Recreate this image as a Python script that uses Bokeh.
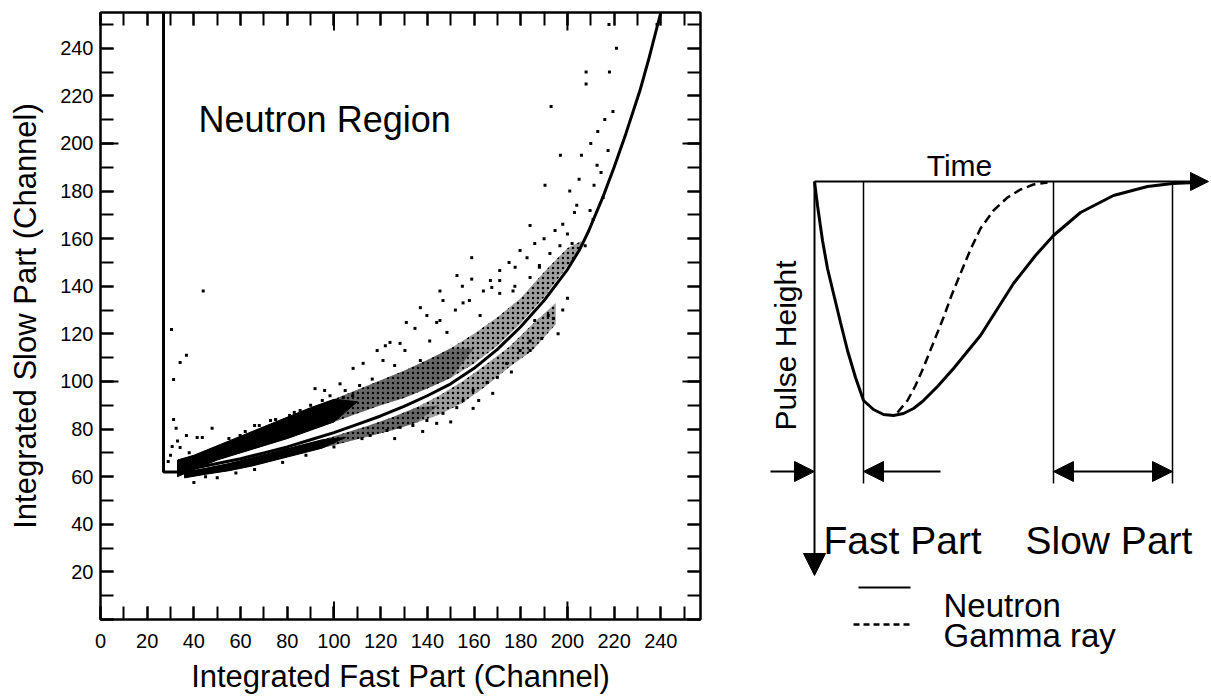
import math
from bokeh.plotting import figure
from bokeh.models import (Range1d, LinearAxis, SingleIntervalTicker, Label,
                          Arrow, NormalHead, CustomJSTickFormatter)
from bokeh.layouts import row, column
from bokeh.embed import file_html
from bokeh.resources import INLINE

FONT = "Liberation Sans"

# ---------------- left panel data ----------------
tick_interval = 20
long_ticks = [100, 200]

# region boundary (vertical cut + discrimination curve)
boundary_x = [27, 27, 34, 40, 50, 60, 70, 80, 90, 100, 110, 120, 130, 140, 150,
              160, 170, 180, 190, 200, 205, 209, 215, 220, 225, 231, 235, 240]
boundary_y = [255, 62, 62, 63.5, 65.5, 67.5, 70, 72.5, 75.5, 78.5, 82, 85.5, 89.5,
              94, 99, 105.5, 113.5, 123, 134, 147, 155, 163, 177, 190, 204, 222,
              236, 255]

# dense upper band (neutron events)
upper_x = [33, 40, 50, 60, 70, 80, 90, 100, 110, 120, 130, 140, 150, 160, 170,
           180, 190, 200, 206]
upper_lo = [60, 63, 67, 70, 73, 76, 79.5, 83, 86.5, 90, 93, 97, 101.5, 107.5,
            115, 124.5, 135.5, 148.5, 156]
upper_hi = [67, 69, 73, 77, 81, 85, 89, 92.5, 96.5, 100.5, 104.5, 109, 114, 120,
            127, 135, 146, 156, 159]

# dense lower band (gamma events)
lower_x = [36, 45, 55, 65, 75, 85, 95, 105, 115, 125, 135, 145, 155, 165, 175,
           185, 195]
lower_lo = [59.5, 61, 62.5, 64.5, 67, 69.5, 72, 74.5, 77, 79.5, 82.5, 86, 91, 98,
            106, 113, 124]
lower_hi = [62, 63.5, 65.5, 68, 70.5, 73, 75.5, 78.5, 81.5, 85, 89, 94, 100, 107,
            114.5, 124, 133]

# sparse individual events
scatter_x = [30.4, 31.3, 34.1, 36.8, 31.3, 32.4, 36.8, 30.7, 29, 41.4, 43.6, 47.8,
             34.1, 40, 44, 30, 33, 38, 45, 50,
             217.8, 238.4, 221, 208, 208, 218, 193, 219.5, 216, 217.4, 212.7,
             214.4, 211.4, 215.3, 209.7, 207.6, 213, 210, 206, 211, 204,
             197, 190.4, 201, 184, 203, 194.7, 179.7, 196.8, 188, 171, 167, 177.5,
             158, 152, 145.4, 162.6, 141, 130.4, 126, 137, 116.4, 111, 104.8, 98.3,
             90, 85.5, 81, 72.8, 66, 59.8, 122,
             159, 152.7, 177.6, 159, 145.4, 146.7, 155.3, 137, 139.8, 131, 144,
             134.7, 148.4, 118.5, 124, 128.3, 112.5, 108.2, 121, 102.6, 96, 91.9,
             104, 108, 171, 171, 167.6, 176.7, 184, 188, 182.7, 192.5,
             194, 191.8, 186, 184, 184, 179.7, 174, 170, 165.6, 159.6, 159.6, 155.3,
             152.6, 146.7, 144, 139.8, 133.8, 128.3, 122.7, 115.5, 198, 200, 196,
             189, 176, 168, 162, 150, 138, 126,
             200, 202, 198, 205, 190, 186, 175, 164, 155,
             55, 62, 68, 75, 83, 95, 58, 66, 78, 88, 100, 112]
scatter_y = [121.8, 100.8, 108, 111, 84, 80.3, 77.3, 72.7, 66.4, 76.5, 76.5, 80.3,
             72.3, 57.6, 138, 69, 75, 70, 60, 59.5,
             250, 250, 240, 230, 225, 230, 215.5, 213.4, 210, 197, 190.8,
             187.8, 182.4, 177.3, 171.8, 157, 205, 200, 195, 168, 174,
             195, 182.4, 180, 165.5, 171, 163.4, 155, 157, 148.7, 146.6, 142.4, 140,
             134, 130, 125.6, 127.7, 117, 113, 106.7, 108.8, 101, 98.3, 96.2, 94,
             90, 87.8, 85.7, 83.6, 81.5, 77.3, 115,
             152, 144.5, 148, 143, 138, 134, 133, 131, 127.7, 124.8, 124.8,
             122.3, 120.6, 113, 116.4, 116, 107.6, 105.5, 108.8, 99, 96.2, 97,
             93.3, 94, 142.4, 137, 139.5, 138, 143.7, 148, 152, 153.8,
             126.5, 127.7, 125.6, 117, 113, 113, 107.6, 101.7, 99.6, 96.2, 88.7, 92,
             89, 86.6, 82.4, 83.6, 81.5, 80.7, 79.4, 77.3, 130, 135, 120,
             118, 104, 95, 92, 83, 79, 76,
             162, 158, 166, 185, 160, 158, 150, 138, 140,
             76, 79, 81.5, 84, 87, 92, 61.5, 63, 66, 69, 72.5, 76]

# ---------------- right panel data (schematic pulse shapes) ----------------
neutron_t = [0, 3, 8, 13, 19, 26, 33, 41, 49, 59, 69, 79, 89, 99, 108, 123, 139,
             166, 199, 221, 239, 266, 299, 333, 358, 381]
neutron_h = [0, -24, -59, -87, -112, -141, -169, -196, -219, -228, -233, -234,
             -232, -227, -220, -205, -187, -154, -102, -74, -54, -31, -14, -5, -2, -1]
gamma_t = [83, 93, 101, 109, 119, 129, 137, 146, 156, 166, 179, 193, 206, 219, 233]
gamma_h = [-231, -219, -204, -186, -161, -136, -114, -92, -68, -47, -29, -16, -8,
           -3, -1]
gate_edges = [49, 239, 358]
fast_gate = [0, 49]
slow_gate = [239, 358]

# ---------------- left figure ----------------
p1 = figure(width=740, height=698, output_backend="svg", toolbar_location=None,
            x_range=Range1d(0, 257), y_range=Range1d(0, 255),
            min_border_left=100, min_border_right=40, min_border_top=12,
            min_border_bottom=79)
p1.grid.visible = False
p1.outline_line_color = "black"
p1.outline_line_width = 2
p1.outline_line_alpha = 1


def style_axis(ax, show_labels):
    ax.ticker = SingleIntervalTicker(interval=tick_interval, num_minor_ticks=2)
    ax.major_tick_in = 13
    ax.major_tick_out = 0
    ax.minor_tick_in = 13
    ax.minor_tick_out = 0
    ax.major_tick_line_width = 2
    ax.minor_tick_line_width = 2
    ax.major_tick_line_color = "black"
    ax.minor_tick_line_color = "black"
    ax.axis_line_width = 2
    ax.axis_line_color = "black"
    if show_labels:
        ax.major_label_text_font = FONT
        ax.major_label_text_font_size = "20px"
        ax.major_label_text_color = "black"
        ax.axis_label_text_font = FONT
        ax.axis_label_text_font_size = "31px"
        ax.axis_label_text_font_style = "normal"
        ax.axis_label_text_color = "black"
    else:
        ax.formatter = CustomJSTickFormatter(code="return ''")
        ax.major_label_standoff = 0


xa = p1.xaxis[0]
ya = p1.yaxis[0]
style_axis(xa, True)
style_axis(ya, True)
xa.axis_label = "Integrated Fast Part (Channel)"
ya.axis_label = "Integrated Slow Part (Channel)"
xa.major_label_standoff = 14
xa.axis_label_standoff = 8
ya.major_label_standoff = 7
ya.axis_label_standoff = 14
ya.major_label_overrides = {0: ""}

top_ax = LinearAxis()
right_ax = LinearAxis()
style_axis(top_ax, False)
style_axis(right_ax, False)
p1.add_layout(top_ax, "above")
p1.add_layout(right_ax, "right")

# longer ticks at the hundreds
lx = 18 / 2.335
ly = 18 / 2.38
xr0, xr1 = p1.x_range.start, p1.x_range.end
yr0, yr1 = p1.y_range.start, p1.y_range.end
p1.segment(x0=long_ticks, y0=[yr0] * 2, x1=long_ticks, y1=[yr0 + ly] * 2,
           line_width=2, color="black")
p1.segment(x0=long_ticks, y0=[yr1] * 2, x1=long_ticks, y1=[yr1 - ly] * 2,
           line_width=2, color="black")
p1.segment(x0=[xr0] * 2, y0=long_ticks, x1=[xr0 + lx] * 2, y1=long_ticks,
           line_width=2, color="black")
p1.segment(x0=[xr1] * 2, y0=long_ticks, x1=[xr1 - lx] * 2, y1=long_ticks,
           line_width=2, color="black")


def tapered(xs, lo, hi, n):
    tip_x = xs[n]
    tip_y = (lo[n] + hi[n]) / 2
    return xs[:n] + [tip_x] + xs[:n][::-1], lo[:n] + [tip_y] + hi[:n][::-1]


def band(xs, lo, hi, n_mid, n_core):
    # whole band: dark speckle
    p1.patch(xs + xs[::-1], lo + hi[::-1], fill_color="black", fill_alpha=0.38,
             line_color=None, hatch_pattern="dot", hatch_color="black",
             hatch_scale=5, hatch_alpha=1.0)
    # denser part at lower channels
    mx, my = tapered(xs, lo, hi, n_mid)
    p1.patch(mx, my, fill_color="black", fill_alpha=0.35, line_color=None)
    # solid core, tapered at its end
    cx, cy = tapered(xs, lo, hi, n_core)
    p1.patch(cx, cy, fill_color="black", line_color="black", line_width=1)


band(upper_x, upper_lo, upper_hi, 13, 8)
band(lower_x, lower_lo, lower_hi, 11, 7)

p1.scatter(scatter_x, scatter_y, marker="square", size=3, color="black",
           line_width=0)
p1.line(boundary_x, boundary_y, line_width=3, color="black")

p1.add_layout(Label(x=42, y=210, text="Neutron Region", text_font=FONT,
                    text_font_size="36px", text_baseline="middle",
                    text_color="black"))

# ---------------- right figure (1 unit = 1 pixel, origin at pulse start) ----------------
p2 = figure(width=471, height=698, output_backend="svg", toolbar_location=None,
            x_range=Range1d(-74, 397), y_range=Range1d(-517, 181),
            x_axis_location=None, y_axis_location=None,
            min_border_left=0, min_border_right=0, min_border_top=0,
            min_border_bottom=0)
p2.grid.visible = False
p2.outline_line_color = None

gate_bottom = -302
p2.segment(x0=gate_edges, y0=[0] * 3, x1=gate_edges, y1=[gate_bottom] * 3,
           line_width=1.5, color="black")

p2.line(neutron_t, neutron_h, line_width=3, color="black")
p2.line(gamma_t, gamma_h, line_width=2.5, color="black", line_dash="9 5")


def head(sz=20):
    return NormalHead(size=sz, fill_color="black", line_color="black")


# axes of the schematic
p2.add_layout(Arrow(end=head(18), x_start=0, y_start=0, x_end=394, y_end=0,
                    line_width=2, line_color="black"))
p2.add_layout(Arrow(end=head(22), x_start=0, y_start=0, x_end=0, y_end=-394,
                    line_width=2, line_color="black"))

# gate arrows
gate_level = -290
p2.add_layout(Arrow(end=head(), x_start=fast_gate[0] - 44, y_start=gate_level,
                    x_end=fast_gate[0], y_end=gate_level, line_width=2,
                    line_color="black"))
p2.add_layout(Arrow(end=head(), x_start=fast_gate[1] + 77, y_start=gate_level,
                    x_end=fast_gate[1], y_end=gate_level, line_width=2,
                    line_color="black"))
p2.add_layout(Arrow(start=head(), end=head(), x_start=slow_gate[0],
                    y_start=gate_level, x_end=slow_gate[1], y_end=gate_level,
                    line_width=2, line_color="black"))

# legend samples
p2.line([44, 96], [-406, -406], line_width=2, color="black")
p2.line([39, 99], [-443, -443], line_width=2.5, color="black", line_dash="6 4")


def lab(x, y, t, size, angle=0, align="left", baseline="alphabetic"):
    p2.add_layout(Label(x=x, y=y, text=t, text_font=FONT, text_font_size=size,
                        angle=angle, text_align=align, text_baseline=baseline,
                        text_color="black"))


lab(145, 16, "Time", "30px", align="center")
lab(-29, -164, "Pulse Height", "30px", angle=math.pi / 2, align="center",
    baseline="middle")
lab(9, -359, "Fast Part", "39px")
lab(211, -359, "Slow Part", "39px")
lab(129, -424, "Neutron", "33px")
lab(129, -454, "Gamma ray", "33px")

layout = row(column(p1), column(p2))
open("out.html", "w").write(file_html(layout, INLINE))
